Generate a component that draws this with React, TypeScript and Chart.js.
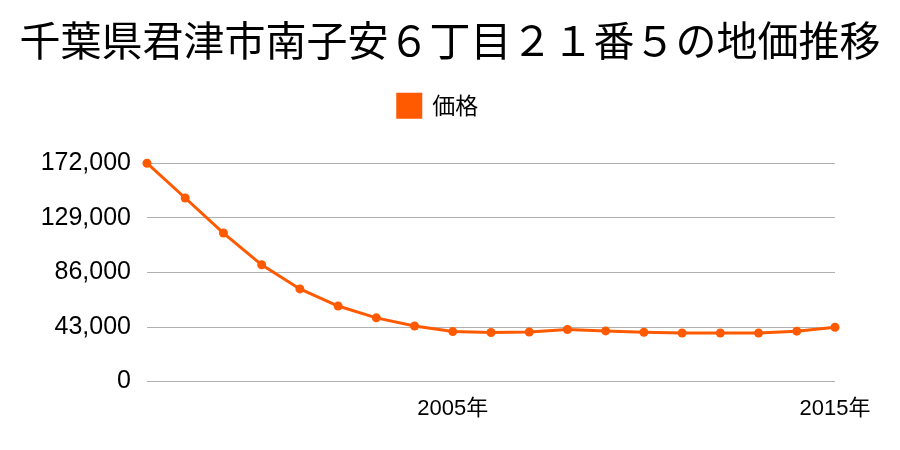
import React, { useEffect, useRef } from "react";
import { Chart, registerables } from "chart.js";

Chart.register(...registerables);

const titleText = "千葉県君津市南子安６丁目２１番５の地価推移";
const seriesName = "価格";
const years = [1997, 1998, 1999, 2000, 2001, 2002, 2003, 2004, 2005, 2006, 2007, 2008, 2009, 2010, 2011, 2012, 2013, 2014, 2015];
const prices = [172000, 144600, 117000, 92000, 73000, 59500, 50200, 43800, 39400, 38700, 39100, 41000, 39900, 38900, 38300, 38300, 38300, 39700, 42800];
const shownYears = [2005, 2015];
const yTicks = [0, 43000, 86000, 129000, 172000];

const FONT = "'Noto Sans CJK JP', 'Noto Sans', sans-serif";
const TICK_FONT = "'Liberation Sans', 'Noto Sans CJK JP', sans-serif";
const ORANGE = "#ff5a00";

const legendTweak = {
  id: "legendTweak",
  beforeInit(chart: any) {
    const legend = chart.legend;
    if (!legend) return;
    const fit = legend.fit;
    legend.fit = function () {
      fit.call(this);
      this.height += 36;
    };
  },
  afterLayout(chart: any) {
    if (chart.legend) chart.legend.left = -24;
  },
};

export default function App() {
  const ref = useRef<HTMLCanvasElement | null>(null);
  useEffect(() => {
    if (!ref.current) return;
    const chart = new Chart(ref.current, {
      type: "line",
      data: {
        labels: years.map((y) => `${y}年`),
        datasets: [
          {
            label: seriesName,
            data: prices,
            borderColor: ORANGE,
            backgroundColor: ORANGE,
            borderWidth: 3,
            pointRadius: 4.5,
            pointBackgroundColor: ORANGE,
            pointBorderWidth: 0,
            tension: 0,
            clip: false,
            yAxisID: "y",
          },
        ],
      },
      plugins: [legendTweak],
      options: {
        animation: false,
        responsive: false,
        maintainAspectRatio: false,
        layout: { padding: { left: 0, right: 0, top: 0, bottom: 22 } },
        plugins: {
          title: {
            display: true,
            text: titleText,
            color: "#000",
            font: { family: FONT, size: 41, weight: "normal" },
            padding: { top: 16, bottom: 19 },
          },
          legend: {
            display: true,
            labels: {
              boxWidth: 23,
              boxHeight: 23,
              color: "#000",
              font: { family: FONT, size: 23 },
              padding: 10,
            },
          },
          tooltip: { enabled: false },
        },
        scales: {
          x: {
            grid: { display: false },
            border: { display: false },
            ticks: {
              autoSkip: false,
              maxRotation: 0,
              color: "#000",
              font: { family: TICK_FONT, size: 22 },
              padding: 6,
              callback: (_v: any, i: number) => (shownYears.includes(years[i]) ? `${years[i]}年` : ""),
            },
          },
          y: {
            min: 0,
            max: 172000,
            afterBuildTicks: (axis: any) => {
              axis.ticks = yTicks.map((v) => ({ value: v }));
            },
            afterFit: (axis: any) => {
              axis.width = 147;
            },
            grid: { color: "#b0b0b0", lineWidth: 1, drawTicks: false },
            border: { display: false },
            ticks: {
              color: "#000",
              font: { family: TICK_FONT, size: 25 },
              padding: 16,
              callback: (v: any) => Number(v).toLocaleString("en-US"),
            },
          },
          yRight: {
            position: "right",
            display: true,
            min: 0,
            max: 172000,
            grid: { display: false, drawTicks: false },
            border: { display: false },
            ticks: { display: false },
            afterFit: (axis: any) => {
              axis.width = 65;
            },
          },
        },
      },
    });
    return () => chart.destroy();
  }, []);
  return (
    <div style={{ position: "absolute", left: 0, top: 0, width: 900, height: 450, background: "#fff" }}>
      <canvas ref={ref} width={900} height={450} />
    </div>
  );
}
